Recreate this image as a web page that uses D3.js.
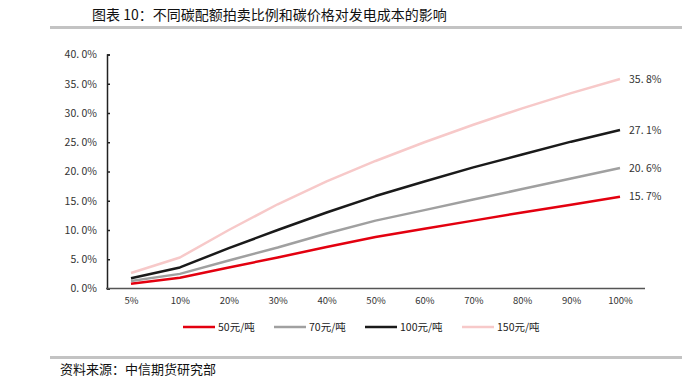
<!DOCTYPE html>
<html>
<head>
<meta charset="utf-8">
<script src="https://cdn.jsdelivr.net/npm/d3@7"></script>
<style>
  body { margin: 0; background: #fff; }
  text { font-family: "Noto Sans CJK SC", "Liberation Sans", sans-serif; }
</style>
</head>
<body>
<div id="chart"></div>
<script>
// categories: share of auctioned allowances
const categories = ["5%", "10%", "20%", "30%", "40%", "50%", "60%", "70%", "80%", "90%", "100%"];

// series: cost increase (%) at each carbon price
const seriesNames = ["50元/吨", "70元/吨", "100元/吨", "150元/吨"];
const price50  = [0.8, 1.85, 3.6, 5.3, 7.1, 8.8, 10.2, 11.6, 13.0, 14.3, 15.7];
const price70  = [1.3, 2.5, 4.8, 7.0, 9.4, 11.6, 13.4, 15.2, 17.0, 18.8, 20.6];
const price100 = [1.75, 3.6, 6.9, 10.0, 13.0, 15.8, 18.3, 20.7, 22.9, 25.1, 27.1];
const price150 = [2.65, 5.3, 10.0, 14.4, 18.3, 21.8, 25.0, 28.0, 30.8, 33.4, 35.8];
const yTicks = [0, 5, 10, 15, 20, 25, 30, 35, 40];

const colors = ["#e3000f", "#a0a0a0", "#1a1a1a", "#f7c9c9"];
const allSeries = [price50, price70, price100, price150];

const w = 697, h = 378;
let svg = d3.select("#chart").append("svg")
    .attr("width", w)
    .attr("height", h);

// title and rules
svg.append("text").attr("x", 92).attr("y", 20)
    .attr("font-size", 14).attr("fill", "#111")
    .text("图表 10：不同碳配额拍卖比例和碳价格对发电成本的影响");
svg.append("rect").attr("x", 50).attr("y", 26).attr("width", 632).attr("height", 3).attr("fill", "#c3c3c3");
svg.append("rect").attr("x", 50).attr("y", 356).attr("width", 632).attr("height", 3).attr("fill", "#c3c3c3");
svg.append("text").attr("x", 60).attr("y", 374)
    .attr("font-size", 13).attr("fill", "#111")
    .text("资料来源：中信期货研究部");

// scales
let xScale = d3.scalePoint()
    .domain(categories)
    .range([131, 620]);

let yScale = d3.scaleLinear()
    .domain([0, 40])
    .range([288.5, 54.5]);

// y axis
let yAxis = d3.axisRight(yScale)
    .tickValues(yTicks)
    .tickSize(3)
    .tickFormat(d => d3.format(".1f")(d).replace(".", ". ") + "%");

let gy = svg.append("g")
    .attr("transform", "translate(107,0)")
    .call(yAxis);
gy.select(".domain").attr("stroke", "#222").attr("stroke-width", 1.5);
gy.selectAll(".tick line").attr("stroke", "#222").attr("stroke-width", 1.5);
gy.selectAll(".tick text")
    .attr("x", -10).attr("text-anchor", "end")
    .attr("font-size", 10.5).attr("fill", "#333")
    .attr("font-family", "'Liberation Sans', sans-serif");

// x axis
let xAxis = d3.axisBottom(xScale).tickSize(0).tickPadding(9);
let gx = svg.append("g")
    .attr("transform", "translate(0,288.5)")
    .call(xAxis);
gx.select(".domain").attr("d", "M106,0H645").attr("stroke", "#555").attr("stroke-width", 1.5);
gx.selectAll(".tick text")
    .attr("font-size", 9.5).attr("fill", "#333")
    .attr("font-family", "'DejaVu Sans', sans-serif");

// lines
let line = d3.line()
    .x((d, i) => xScale(categories[i]))
    .y(d => yScale(d));

// draw pink first so darker lines sit on top
[3, 0, 1, 2].forEach(k => {
    svg.append("path")
        .datum(allSeries[k])
        .attr("fill", "none")
        .attr("stroke", colors[k])
        .attr("stroke-width", 2.5)
        .attr("stroke-linejoin", "round")
        .attr("d", line);
});

// end labels
allSeries.forEach((s, k) => {
    let v = s[s.length - 1];
    svg.append("text")
        .attr("x", xScale(categories[categories.length - 1]) + 9)
        .attr("y", yScale(v))
        .attr("dy", "0.35em")
        .attr("font-size", 10.5).attr("fill", "#333")
        .attr("font-family", "'Liberation Sans', sans-serif")
        .text(d3.format(".1f")(v).replace(".", ". ") + "%");
});

// legend
const legendX = [183, 274, 365, 462];
seriesNames.forEach((name, k) => {
    svg.append("line")
        .attr("x1", legendX[k]).attr("x2", legendX[k] + 32)
        .attr("y1", 327).attr("y2", 327)
        .attr("stroke", colors[k]).attr("stroke-width", 2.5);
    svg.append("text")
        .attr("x", legendX[k] + 35).attr("y", 327)
        .attr("dy", "0.35em")
        .attr("font-size", 10.5).attr("fill", "#222")
        .text(name);
});
</script>
</body>
</html>
